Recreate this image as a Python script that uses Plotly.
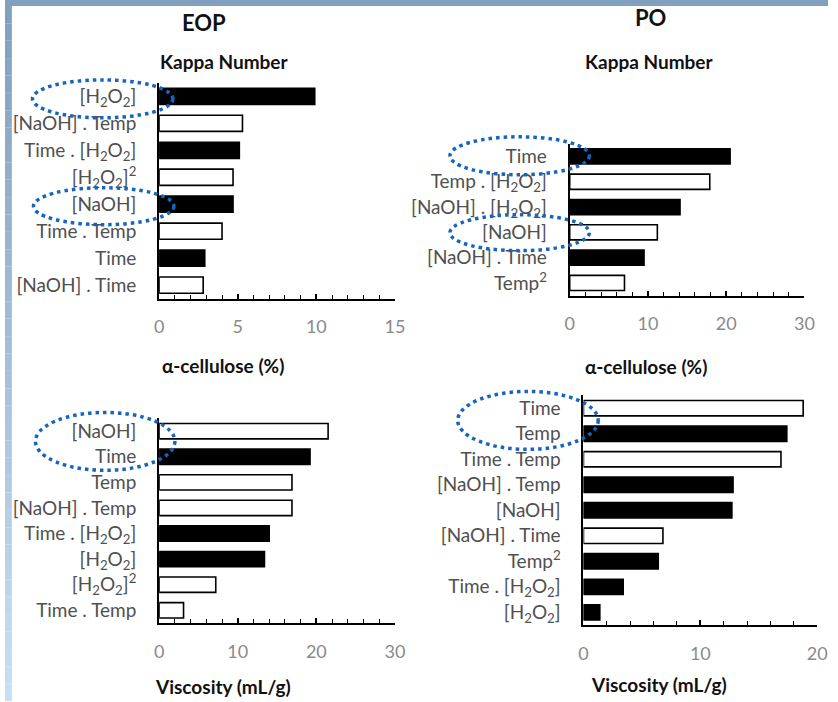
import plotly.graph_objects as go

# ---- data: effect magnitudes per factor (ordered top to bottom) ----
H2O2 = "[H<sub>2</sub>O<sub>2</sub>]"

eop_kappa_terms = [H2O2, "[NaOH] . Temp", "Time . " + H2O2, H2O2 + "<sup>2</sup>",
                   "[NaOH]", "Time . Temp", "Time", "[NaOH] . Time"]
eop_kappa_vals = [9.9, 5.3, 5.1, 4.7, 4.7, 4.0, 2.9, 2.8]
eop_kappa_sign = [-1, 1, -1, 1, -1, 1, -1, 1]

po_kappa_terms = ["Time", "Temp . " + H2O2, "[NaOH] . " + H2O2, "[NaOH]",
                  "[NaOH] . Time", "Temp<sup>2</sup>"]
po_kappa_vals = [20.5, 17.9, 14.1, 11.2, 9.5, 7.0]
po_kappa_sign = [-1, 1, -1, 1, -1, 1]

eop_visc_terms = ["[NaOH]", "Time", "Temp", "[NaOH] . Temp", "Time . " + H2O2,
                  H2O2, H2O2 + "<sup>2</sup>", "Time . Temp"]
eop_visc_vals = [21.5, 19.2, 16.9, 16.9, 14.0, 13.4, 7.2, 3.1]
eop_visc_sign = [1, -1, 1, 1, -1, -1, 1, 1]

po_visc_terms = ["Time", "Temp", "Time . Temp", "[NaOH] . Temp", "[NaOH]",
                 "[NaOH] . Time", "Temp<sup>2</sup>", "Time . " + H2O2, H2O2]
po_visc_vals = [18.8, 17.4, 16.9, 12.8, 12.7, 6.8, 6.4, 3.4, 1.4]
po_visc_sign = [1, -1, 1, -1, -1, 1, -1, -1, -1]

x_ranges = [15, 30, 30, 20]
major_steps = [5, 10, 10, 10]
minor_steps = [1, 2, 2, 2]

W, H = 838, 702
FONT = "Lato, 'Open Sans', sans-serif"


def px(x):
    return x / W


def py(y):
    return 1 - y / H


panels = [
    (eop_kappa_terms, eop_kappa_vals, eop_kappa_sign, (157, 397), (83, 299)),
    (po_kappa_terms, po_kappa_vals, po_kappa_sign, (575, 814), (144, 296)),
    (eop_visc_terms, eop_visc_vals, eop_visc_sign, (157, 397), (419, 624)),
    (po_visc_terms, po_visc_vals, po_visc_sign, (589, 827), (396, 626)),
]

fig = go.Figure()
layout = {}
for i, (terms, vals, sign, (xl, xr), (yt, yb)) in enumerate(panels):
    n = "" if i == 0 else str(i + 1)
    fig.add_trace(go.Bar(
        x=vals, y=terms, orientation="h", width=0.6,
        marker=dict(color=["white" if s > 0 else "black" for s in sign],
                    line=dict(color="black", width=1.6)),
        xaxis="x" + n, yaxis="y" + n, showlegend=False, hoverinfo="x+y",
    ))
    layout["xaxis" + n] = dict(
        domain=[px(xl), px(xr)], anchor="y" + n, range=[0, x_ranges[i]],
        dtick=major_steps[i], tick0=0, ticks="inside", ticklen=5, tickwidth=1.5,
        tickcolor="black", showline=True, linecolor="black", linewidth=2,
        showgrid=False, zeroline=False, ticklabelstandoff=11,
        tickfont=dict(family=FONT, size=18, color="#8a8a8a"),
        minor=dict(dtick=minor_steps[i], ticks="inside", ticklen=4,
                   tickwidth=1.2, tickcolor="black", showgrid=False),
        fixedrange=True,
    )
    layout["yaxis" + n] = dict(
        domain=[py(yb), py(yt)], anchor="x" + n, autorange="reversed",
        type="category", showline=True, linecolor="black", linewidth=2,
        ticks="", showgrid=False, zeroline=False, ticklabelstandoff=17,
        tickfont=dict(family=FONT, size=19, color="#505050"),
        fixedrange=True,
    )

fig.update_layout(**layout)

# headings
texts = [
    ("EOP", 203, 23, 22), ("PO", 657, 18, 22),
    ("Kappa Number", 223, 62, 19), ("Kappa Number", 656, 62, 19),
    ("α-cellulose (%)", 222, 366, 19), ("α-cellulose (%)", 653, 367, 19),
    ("Viscosity (mL/g)", 222, 687, 19), ("Viscosity (mL/g)", 666, 685, 19),
]
for t, x, y, s in texts:
    fig.add_annotation(text="<b>%s</b>" % t, x=px(x), y=py(y), xref="paper",
                       yref="paper", showarrow=False, xanchor="center",
                       yanchor="middle", font=dict(family=FONT, size=s, color="#111111"))

shapes = []
# slide frame: top band and a left band shading downwards
shapes.append(dict(type="rect", xref="paper", yref="paper", x0=0, x1=1,
                   y0=py(6), y1=1, fillcolor="rgb(128,160,190)", line_width=0, layer="below"))
steps = 40
top_c, bot_c = (128, 160, 190), (200, 222, 242)
for k in range(steps):
    f = k / (steps - 1)
    c = tuple(int(round(a + (b - a) * f)) for a, b in zip(top_c, bot_c))
    y0 = 6 + (H - 6) * k / steps
    y1 = 6 + (H - 6) * (k + 1) / steps
    shapes.append(dict(type="rect", xref="paper", yref="paper", x0=0, x1=px(7),
                       y0=py(y1), y1=py(y0), fillcolor="rgb(%d,%d,%d)" % c,
                       line_width=0, layer="below"))

# dotted highlight rings around key factors
rings = [(28, 80, 171, 118), (29, 188, 172, 225), (453, 137, 595, 175),
         (453, 215, 595, 251), (31, 413, 173, 471), (461, 392, 604, 450)]
for x0, y0, x1, y1 in rings:
    shapes.append(dict(type="circle", xref="paper", yref="paper",
                       x0=px(x0), x1=px(x1), y0=py(y1), y1=py(y0),
                       line=dict(color="#1565c0", width=3.5, dash="3.5px,4px"),
                       layer="above"))

fig.update_layout(
    width=W, height=H, margin=dict(l=0, r=0, t=0, b=0),
    paper_bgcolor="white", plot_bgcolor="rgba(0,0,0,0)",
    shapes=shapes, bargap=0.4,
)

fig.write_html("out.html", config={"displayModeBar": False})
